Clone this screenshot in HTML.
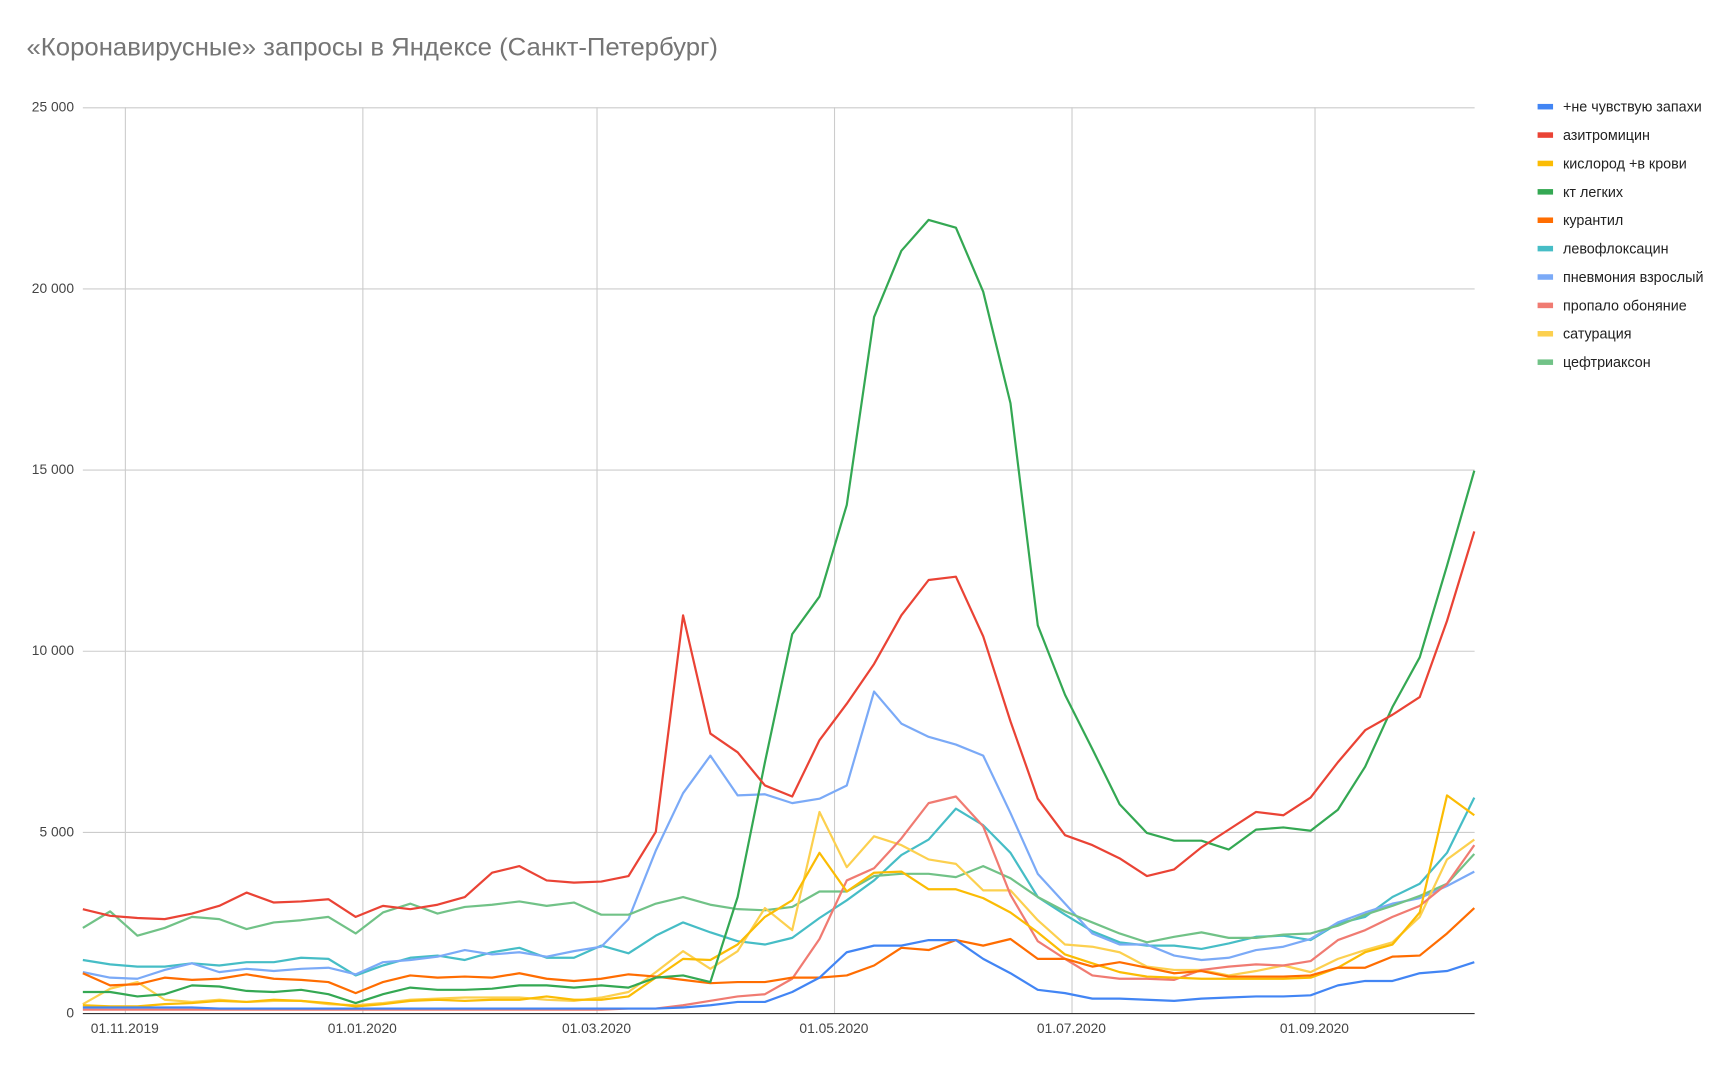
<!DOCTYPE html>
<html><head><meta charset="utf-8"><style>
html,body{margin:0;padding:0;background:#fff;}
svg{display:block;}
text{font-family:"Liberation Sans",Arial,sans-serif;}
</style></head><body>
<svg id="c" width="1732" height="1065" viewBox="0 0 1568 964" xmlns="http://www.w3.org/2000/svg">
<rect width="1568" height="964" fill="#fff"/>
<text x="24" y="50" font-size="23" fill="#757575" textLength="626" lengthAdjust="spacingAndGlyphs">«Коронавирусные» запросы в Яндексе (Санкт-Петербург)</text>
<g stroke="#cccccc" stroke-width="1">
<line x1="75" y1="97.5" x2="1335" y2="97.5"/>
<line x1="75" y1="261.5" x2="1335" y2="261.5"/>
<line x1="75" y1="425.5" x2="1335" y2="425.5"/>
<line x1="75" y1="589.5" x2="1335" y2="589.5"/>
<line x1="75" y1="753.5" x2="1335" y2="753.5"/>
<line x1="113.5" y1="97" x2="113.5" y2="917"/>
<line x1="328.5" y1="97" x2="328.5" y2="917"/>
<line x1="540.5" y1="97" x2="540.5" y2="917"/>
<line x1="755.5" y1="97" x2="755.5" y2="917"/>
<line x1="970.5" y1="97" x2="970.5" y2="917"/>
<line x1="1190.5" y1="97" x2="1190.5" y2="917"/>
</g>
<line x1="75" y1="917.5" x2="1335" y2="917.5" stroke="#333" stroke-width="1"/>
<g font-size="12.5" fill="#444" text-anchor="end">
<text x="67" y="101">25 000</text>
<text x="67" y="265">20 000</text>
<text x="67" y="429">15 000</text>
<text x="67" y="593">10 000</text>
<text x="67" y="757">5 000</text>
<text x="67" y="921">0</text>
</g>
<g font-size="12.5" fill="#444" text-anchor="middle">
<text x="113" y="935">01.11.2019</text>
<text x="328" y="935">01.01.2020</text>
<text x="540" y="935">01.03.2020</text>
<text x="755" y="935">01.05.2020</text>
<text x="970" y="935">01.07.2020</text>
<text x="1190" y="935">01.09.2020</text>
</g>
<g id="lines" fill="none" stroke-width="2" stroke-linejoin="round"></g>
<g id="legend" font-size="13" fill="#222"></g>
</svg>
<script>
var S=[
["+не чувствую запахи","#4285f4",[912,912,912,912,912,913,913,913,913,913,913,913,913,913,913,913,913,913,913,913,913,913,912,910,907,907,898,885,862,856,856,851,851,868,881,896,899,904,904,905,906,904,903,902,902,901,892,888,888,881,879,871]],
["азитромицин","#ea4335",[823,829,831,832,827,820,808,817,816,814,830,820,823,819,812,790,784,797,799,798,793,753,557,664,681,711,721,670,637,601,557,525,522,576,653,723,756,765,777,793,787,767,751,735,738,722,690,661,647,631,562,481]],
["кислород +в крови","#fbbc04",[910,911,911,909,908,906,907,905,906,908,911,909,906,905,906,905,905,902,905,905,902,885,868,869,855,830,815,772,807,790,789,805,805,813,826,844,864,872,880,884,885,886,886,886,886,885,876,862,855,826,720,738]],
["кт легких","#34a853",[898,898,902,900,892,893,897,898,896,900,908,900,894,896,896,895,892,892,894,892,894,885,883,889,812,690,574,540,457,287,227,199,206,264,365,566,629,678,728,754,761,761,769,751,749,752,733,694,640,595,512,426]],
["курантил","#ff6d01",[881,892,891,885,887,886,882,886,887,889,899,889,883,885,884,885,881,886,888,886,882,884,887,890,889,889,885,885,883,874,858,860,851,856,850,868,868,875,871,876,881,879,884,884,884,883,876,876,866,865,845,822]],
["левофлоксацин","#46bdc6",[869,873,875,875,872,874,871,871,867,868,883,874,867,865,869,862,858,867,867,856,863,847,835,844,852,855,849,831,815,797,774,760,732,747,772,812,828,843,853,856,856,859,854,848,847,851,836,830,812,800,772,722]],
["пневмония взрослый","#7baaf7",[880,885,886,878,872,880,877,879,877,876,882,871,869,866,860,864,862,866,861,857,832,770,718,684,720,719,727,723,711,626,655,667,674,684,736,791,818,845,855,855,865,869,867,860,857,850,835,826,818,813,802,789]],
["пропало обоняние","#f07b72",[914,914,914,914,914,914,914,914,914,914,914,914,914,914,914,914,914,914,914,914,913,913,910,906,902,900,886,850,797,786,759,727,721,748,810,852,868,883,886,886,887,878,875,873,874,870,851,842,830,820,800,765]],
["сатурация","#fcd04f",[909,895,889,905,907,905,907,906,906,909,910,908,905,904,903,903,903,905,906,903,898,880,861,877,861,822,842,735,785,757,765,778,782,806,806,833,855,857,862,875,878,878,883,879,874,880,868,860,853,830,778,760]],
["цефтриаксон","#71c287",[840,825,847,840,830,832,841,835,833,830,845,826,818,827,821,819,816,820,817,828,828,818,812,819,823,824,821,807,807,793,791,791,794,784,795,812,825,835,845,853,848,844,849,849,846,845,838,828,820,811,800,773]]
];
var NS="http://www.w3.org/2000/svg",L=document.getElementById("lines"),G=document.getElementById("legend");
var draw=[5,6,9,8,7,2,4,0,3,1];
draw.forEach(function(k){var s=S[k];var p=s[2].map(function(y,i){return (75+i*1259.7/51).toFixed(1)+","+y;}).join(" ");
var e=document.createElementNS(NS,"polyline");e.setAttribute("points",p);e.setAttribute("stroke",s[1]);L.appendChild(e);});
S.forEach(function(s,i){var y=97+i*25.7;var r=document.createElementNS(NS,"rect");r.setAttribute("x",1392);r.setAttribute("y",y-3);r.setAttribute("width",14);r.setAttribute("height",5);r.setAttribute("fill",s[1]);G.appendChild(r);
var t=document.createElementNS(NS,"text");t.setAttribute("x",1415);t.setAttribute("y",y+4);t.textContent=s[0];G.appendChild(t);});
</script>
</body></html>
